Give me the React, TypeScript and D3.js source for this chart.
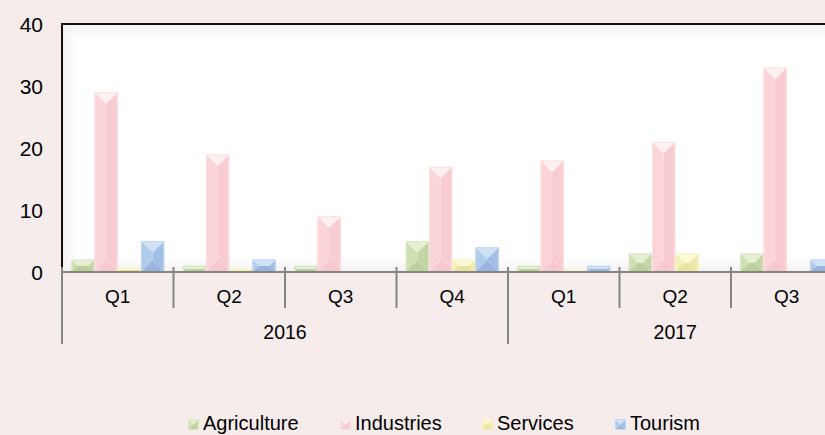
import React from 'react';
import * as d3 from 'd3';

const quarters = ['Q1', 'Q2', 'Q3', 'Q4', 'Q1', 'Q2', 'Q3'];
const years = ['2016', '2016', '2016', '2016', '2017', '2017', '2017'];
const seriesNames = ['Agriculture', 'Industries', 'Services', 'Tourism'];
const agriculture = [2, 1, 1, 5, 1, 3, 3];
const industries = [29, 19, 9, 17, 18, 21, 33];
const services = [0.7, 0.6, 0, 2, 0.5, 3, 0];
const tourism = [5, 2, 0, 4, 1, 0, 2];
const yTicks = [0, 10, 20, 30, 40];

const seriesValues = [agriculture, industries, services, tourism];

const palette = [
  { top: '#e4efd3', left: '#cde0b2', right: '#c3d7a5', bottom: '#bcd09b', stroke: '#d9e7c4' },
  { top: '#fff1f2', left: '#fbd4d7', right: '#f8ccd0', bottom: '#f5c8cc', stroke: '#fde0e2' },
  { top: '#fbf9d6', left: '#f4f0b4', right: '#eee9a5', bottom: '#e9e49d', stroke: '#f7f5c8' },
  { top: '#cfe1f6', left: '#b0cbeb', right: '#a1bee5', bottom: '#98b6dd', stroke: '#c1d6f0' },
];

const W = 825;
const H = 435;
const FONT = '"Liberation Sans", Arial, sans-serif';

function Bevel({ x0, y0, w, h, c }: { x0: number; y0: number; w: number; h: number; c: any }) {
  if (h <= 0 || w <= 0) return null;
  const x1 = x0 + w;
  const y1 = y0 + h;
  const d = Math.min(w, h) / 2;
  const pts = (a: number[][]) => a.map((p) => p.join(',')).join(' ');
  return (
    <g>
      <polygon points={pts([[x0, y1], [x0, y0], [x0 + d, y0 + d], [x0 + d, y1 - d]])} fill={c.left} />
      <polygon points={pts([[x1, y0], [x1, y1], [x1 - d, y1 - d], [x1 - d, y0 + d]])} fill={c.right} />
      <polygon points={pts([[x1, y1], [x0, y1], [x0 + d, y1 - d], [x1 - d, y1 - d]])} fill={c.bottom} />
      <polygon points={pts([[x0, y0], [x1, y0], [x1 - d, y0 + d], [x0 + d, y0 + d]])} fill={c.top} />
      <rect x={x0 + 0.5} y={y0 + 0.5} width={Math.max(0, w - 1)} height={Math.max(0, h - 1)} fill="none" stroke={c.stroke} strokeWidth={1} />
    </g>
  );
}

export default function App() {
  const left = 62;
  const top = 24;
  const bottom = 272;
  const right = 842.5;
  const keys = quarters.map((_, i) => String(i));
  const x = d3.scaleBand<string>().domain(keys).range([left, right]).paddingInner(0).paddingOuter(0);
  const xs = d3.scaleBand<string>().domain(seriesNames).range([0, x.bandwidth()]).paddingInner(0).paddingOuter(0.4);
  const y = d3.scaleLinear().domain([0, 40]).range([bottom, top]);
  const bw = x.bandwidth();

  const yearGroups = Array.from(d3.group(keys, (k) => years[+k]), ([yr, ks]) => ({
    yr,
    start: x(ks[0])!,
    end: x(ks[ks.length - 1])! + bw,
  }));

  const boundaries: { xp: number; long: boolean }[] = [];
  keys.forEach((k, i) => {
    const xp = x(k)!;
    const long = i === 0 || years[i] !== years[i - 1];
    boundaries.push({ xp, long });
  });
  boundaries.push({ xp: right, long: true });

  const legendItems = [
    { mx: 188, tx: 203 },
    { mx: 340, tx: 355 },
    { mx: 482, tx: 497 },
    { mx: 615, tx: 630 },
  ];

  return (
    <div style={{ position: 'fixed', left: 0, top: 0, width: W, height: H, overflow: 'hidden', background: '#f6ecec' }}>
      <svg width={W} height={H} style={{ display: 'block' }}>
        <defs>
          <clipPath id="plotClip">
            <rect x={left} y={top} width={right - left + 120} height={bottom - top} />
          </clipPath>
          <filter id="glowBlur" x="-20%" y="-20%" width="140%" height="140%">
            <feGaussianBlur stdDeviation="6" />
          </filter>
        </defs>
        <rect x={0} y={0} width={W} height={H} fill="#f6ecec" />
        <rect x={left} y={top} width={right - left + 120} height={bottom - top} fill="#ffffff" />
        <g clipPath="url(#plotClip)">
          <rect
            x={left}
            y={top}
            width={right - left + 120}
            height={bottom - top}
            fill="none"
            stroke="#f1eded"
            strokeWidth={12}
            filter="url(#glowBlur)"
          />
        </g>
        {seriesValues.map((vals, si) => (
          <g key={seriesNames[si]}>
            {vals.map((v, i) => {
              const bx = x(keys[i])! + xs(seriesNames[si])!;
              return <Bevel key={i} x0={bx} y0={y(v)} w={xs.bandwidth()} h={y(0) - y(v)} c={palette[si]} />;
            })}
          </g>
        ))}
        <line x1={left} x2={W + 20} y1={top} y2={top} stroke="#111" strokeWidth={2} />
        <line x1={left} x2={left} y1={top - 1} y2={bottom} stroke="#111" strokeWidth={2} />
        <line x1={left} x2={W + 20} y1={bottom} y2={bottom} stroke="#858585" strokeWidth={2} />
        {boundaries.map((b, i) => (
          <line key={i} x1={b.xp} x2={b.xp} y1={bottom - 5} y2={b.long ? 344 : 308} stroke="#858585" strokeWidth={2} />
        ))}
        {yTicks.map((t) => (
          <text key={t} x={43} y={y(t)} dy="0.36em" textAnchor="end" fontFamily={FONT} fontSize={21} fill="#000">
            {t}
          </text>
        ))}
        {keys.map((k, i) => (
          <text key={k} x={x(k)! + bw / 2} y={302.5} textAnchor="middle" fontFamily={FONT} fontSize={19} fill="#000">
            {quarters[i]}
          </text>
        ))}
        {yearGroups.map((g) => (
          <text key={g.yr} x={(g.start + g.end) / 2} y={339} textAnchor="middle" fontFamily={FONT} fontSize={19.5} fill="#000">
            {g.yr}
          </text>
        ))}
        {seriesNames.map((name, si) => (
          <g key={name}>
            <Bevel x0={legendItems[si].mx} y0={419} w={11} h={11} c={palette[si]} />
            <text x={legendItems[si].tx} y={430} fontFamily={FONT} fontSize={20} fill="#000">
              {name}
            </text>
          </g>
        ))}
      </svg>
    </div>
  );
}
